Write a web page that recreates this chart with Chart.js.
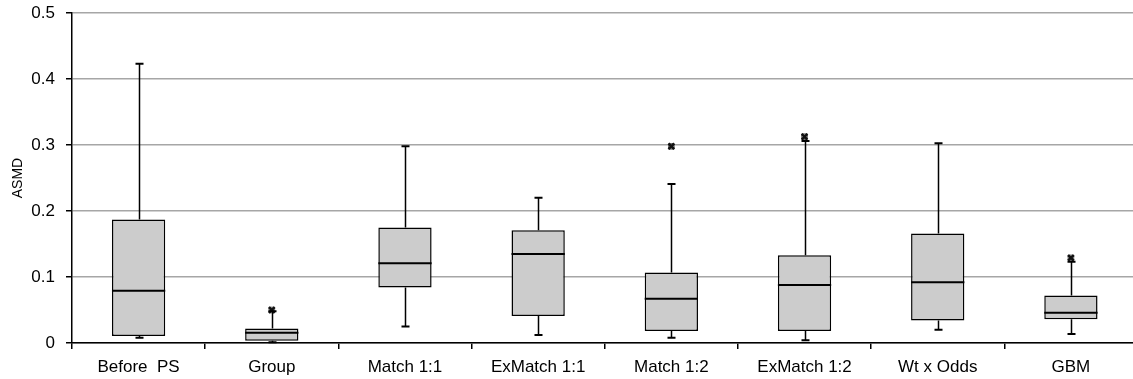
<!DOCTYPE html>
<html lang="en">
<head>
    <meta charset="UTF-8">
    <title>ASMD box plot</title>
    <script src="https://cdn.jsdelivr.net/npm/chart.js"></script>
    <style>
        body { margin: 0; background: #fff; overflow: hidden; }
        .chart-box { width: 1144px; height: 379px; }
    </style>
</head>
<body>
<div class="chart-box"><canvas id="boxChart"></canvas></div>

<script>
    const methods = ['Before  PS', 'Group', 'Match 1:1', 'ExMatch 1:1', 'Match 1:2', 'ExMatch 1:2', 'Wt x Odds', 'GBM'];
    const whiskerLow  = [0.008, 0.001, 0.025, 0.012, 0.008, 0.004, 0.020, 0.0136];
    const q1          = [0.0106, 0.0035, 0.084, 0.041, 0.018, 0.018, 0.034, 0.036];
    const median      = [0.079, 0.0157, 0.121, 0.135, 0.067, 0.088, 0.092, 0.046];
    const q3          = [0.187, 0.022, 0.175, 0.171, 0.107, 0.133, 0.166, 0.072];
    const whiskerHigh = [0.423, 0.048, 0.298, 0.220, 0.241, 0.306, 0.3025, 0.123];
    const outliers    = [null, 0.050, null, null, 0.298, 0.3126, null, 0.129];
    const yTicks      = [0, 0.1, 0.2, 0.3, 0.4, 0.5];

    // whiskers, caps and median lines drawn on top of the boxes
    const boxLines = {
        id: 'boxLines',
        afterDatasetsDraw(chart) {
            const ctx = chart.ctx;
            const y = chart.scales.y;
            const meta = chart.getDatasetMeta(0);
            ctx.save();
            ctx.strokeStyle = '#000';
            methods.forEach((m, i) => {
                const bar = meta.data[i];
                const cx = Math.round(bar.x) + 0.5;
                const half = bar.width / 2;
                ctx.lineWidth = 1.5;
                ctx.beginPath();
                ctx.moveTo(cx, y.getPixelForValue(q3[i]));
                ctx.lineTo(cx, y.getPixelForValue(whiskerHigh[i]));
                ctx.moveTo(cx, y.getPixelForValue(q1[i]));
                ctx.lineTo(cx, y.getPixelForValue(whiskerLow[i]));
                ctx.stroke();
                ctx.lineWidth = 2;
                ctx.beginPath();
                ctx.moveTo(cx - 4, y.getPixelForValue(whiskerHigh[i]));
                ctx.lineTo(cx + 4, y.getPixelForValue(whiskerHigh[i]));
                ctx.moveTo(cx - 4, y.getPixelForValue(whiskerLow[i]));
                ctx.lineTo(cx + 4, y.getPixelForValue(whiskerLow[i]));
                ctx.moveTo(bar.x - half, y.getPixelForValue(median[i]));
                ctx.lineTo(bar.x + half, y.getPixelForValue(median[i]));
                ctx.stroke();
            });
            ctx.restore();
        }
    };

    Chart.defaults.font.family = '"Liberation Sans", Arial, sans-serif';
    Chart.defaults.color = '#000';

    new Chart(document.getElementById('boxChart'), {
        data: {
            labels: methods,
            datasets: [
                {
                    type: 'bar',
                    order: 2,
                    data: methods.map((m, i) => [q1[i], q3[i]]),
                    backgroundColor: '#cccccc',
                    borderColor: '#000',
                    borderWidth: 1.5,
                    borderSkipped: false,
                    categoryPercentage: 1,
                    barPercentage: 0.4
                },
                {
                    type: 'line',
                    order: 1,
                    data: outliers,
                    showLine: false,
                    pointStyle: 'rect',
                    pointRadius: 4,
                    pointBorderWidth: 1,
                    pointBorderColor: '#777',
                    pointBackgroundColor: '#aaa'
                },
                {
                    type: 'line',
                    order: 0,
                    data: outliers,
                    showLine: false,
                    pointStyle: 'crossRot',
                    pointRadius: 4,
                    pointBorderWidth: 2.5,
                    pointBorderColor: '#111'
                }
            ]
        },
        options: {
            responsive: true,
            maintainAspectRatio: false,
            animation: false,
            layout: { padding: { top: 13, right: 0, left: 0, bottom: 0 } },
            plugins: {
                legend: { display: false },
                tooltip: { enabled: false }
            },
            scales: {
                x: {
                    offset: true,
                    afterFit: axis => { axis.height = 36; axis.paddingLeft = 0; axis.paddingRight = 0; },
                    grid: { offset: true, drawOnChartArea: false, tickLength: 6, color: '#000', lineWidth: 1.5 },
                    border: { color: '#000', width: 1.5 },
                    ticks: { font: { size: 17 }, padding: 8, maxRotation: 0 }
                },
                y: {
                    min: 0,
                    max: 0.5,
                    afterBuildTicks: axis => { axis.ticks = yTicks.map(v => ({ value: v })); },
                    afterFit: axis => { axis.width = 72; axis.paddingTop = 0; axis.paddingBottom = 0; },
                    grid: { color: '#a6a6a6', lineWidth: 1.5, tickLength: 6, tickColor: '#000' },
                    border: { color: '#000', width: 1.5 },
                    ticks: { font: { size: 17 }, padding: 11 },
                    title: { display: true, text: 'ASMD', font: { size: 14 }, padding: { top: 10, bottom: 0 } }
                }
            }
        },
        plugins: [boxLines]
    });
</script>
</body>
</html>
